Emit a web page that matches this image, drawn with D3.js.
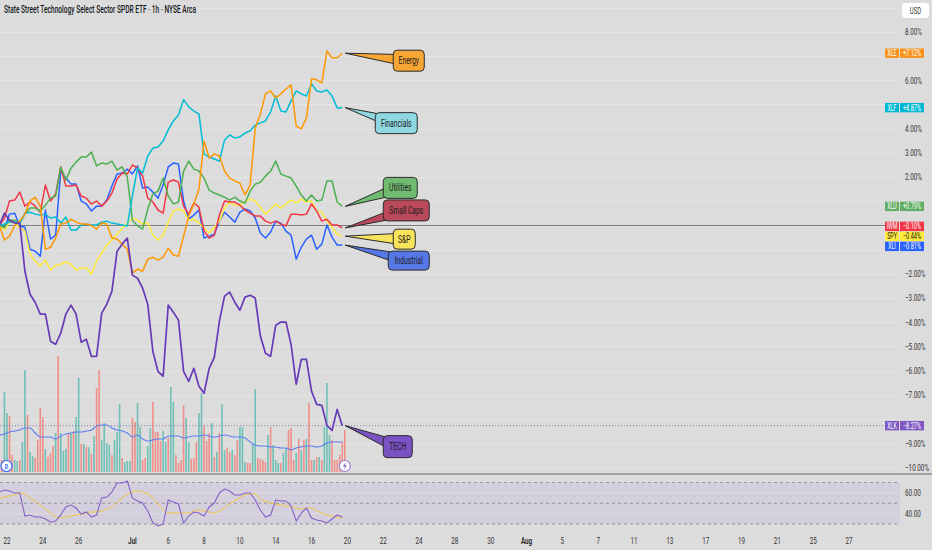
<!DOCTYPE html>
<html>
<head>
<meta charset="utf-8">
<script src="https://cdn.jsdelivr.net/npm/d3@7"></script>
<style>
  body { margin: 0; background: #dcdcdc; }
  svg { display: block; font-family: Roboto, "Liberation Sans", sans-serif; }
</style>
</head>
<body>
<svg id="chart" width="932" height="550"></svg>
<script>
// ---- data: % change vs. first bar, one value every 2 hourly bars ----
var tickers = ["XLE", "XLF", "XLU", "IWM", "SPY", "XLI", "XLK"];
var sectorNames = ["Energy", "Financials", "Utilities", "Small Caps", "S&P", "Industrial", "TECH"];

var xle = [0, -0.6, -0.44, 0.0, 0.18, 0.47, 1.01, 1.17, 0.80, -0.98, -0.90, -0.52, 0.06, 0.10, 0.26, 0.14, 0.06, 0.06, 0.0, -0.15,
  0.10, 0.06, -0.52, -0.56, -0.77, -0.98, -1.97, -1.80, -1.89, -1.39, -1.31, -1.43, -1.31, -0.94, -1.22, -1.27, -0.44, 0.39, 0.89, 1.51,
  3.49, 2.79, 2.96, 2.87, 2.25, 1.96, 1.84, 1.75, 1.26, 1.67, 4.03, 4.61, 5.44, 5.56, 5.27, 5.44, 5.64, 5.81, 4.11, 3.99,
  4.44, 6.06, 6.02, 5.89, 7.21, 6.93, 6.93, 7.12];
var xlf = [0, 0.06, 0.14, 0.14, 0.10, 0.51, 0.55, 0.47, 0.43, 0.47, 0.31, 0.35, 0.10, 0.35, -0.19, -0.19, 0.02, 0.06, 0.02, 0.02,
  0.14, 0.18, 0.10, 0.06, 0.02, -0.02, 1.22, 2.37, 2.17, 2.87, 3.20, 3.24, 3.49, 3.95, 4.32, 4.57, 5.20, 4.90, 4.73, 4.61,
  2.96, 2.83, 2.75, 2.66, 3.53, 3.74, 3.62, 3.66, 3.82, 3.91, 4.15, 4.24, 4.32, 4.69, 5.35, 4.73, 4.69, 5.15, 5.56, 5.44,
  5.35, 5.85, 5.56, 5.52, 5.60, 5.35, 4.86, 4.87];
var xlu = [0, -0.07, 0.22, 0.22, 0.10, 0.47, 0.72, 0.72, 0.60, 0.84, 1.13, 1.22, 2.42, 1.88, 2.37, 2.62, 2.83, 2.83, 3.04, 2.46,
  2.58, 2.54, 2.66, 2.29, 2.42, 2.00, 0.22, -0.02, -0.15, 0.68, 1.30, 1.42, 1.96, 1.22, 0.89, 0.97, 2.25, 2.66, 2.33, 2.25,
  1.96, 1.46, 1.34, 1.26, 1.17, 1.05, 1.17, 1.01, 0.93, 1.42, 1.71, 1.79, 2.04, 2.25, 2.66, 2.13, 2.04, 1.96, 1.63, 1.26,
  1.01, 1.26, 1.01, 1.05, 1.84, 1.84, 0.97, 0.79];
var iwm = [0, 0.31, 1.01, 1.05, 1.38, 0.80, 0.97, 0.80, 0.55, 1.67, 1.01, 1.30, 2.42, 1.63, 1.63, 1.67, 1.22, 1.13, 0.89, 1.01,
  0.80, 1.01, 1.34, 1.92, 2.17, 2.13, 2.50, 2.37, 2.04, 1.13, 0.97, 0.64, 0.51, 1.79, 1.88, 1.79, 0.80, 0.47, 0.93, 0.76,
  -0.23, -0.52, -0.40, 0.43, 1.01, 0.97, 0.97, 0.84, 0.64, 0.51, 0.39, 0.39, 0.18, 0.10, 0.18, 0.06, -0.02, 0.47, 0.47, 0.43,
  0.47, 0.89, 0.60, 0.18, 0.26, 0.02, 0.02, -0.10];
var spy = [0, -0.19, 0.14, 0.10, -0.11, -0.23, -1.18, -1.47, -1.68, -1.43, -1.85, -1.64, -1.60, -1.51, -1.60, -1.85, -1.76, -1.76, -2.01, -1.47,
  -1.14, -0.81, -0.60, -0.36, -0.11, 0.10, 0.31, 0.22, 0.06, 0.10, -0.40, -0.60, -0.40, 0.14, 0.60, 0.68, 0.60, 0.22, 0.26, 0.10,
  -0.11, -0.31, -0.07, 0.18, 0.72, 0.97, 0.84, 0.84, 0.97, 1.09, 1.01, 0.76, 0.47, 0.68, 0.89, 0.72, 0.89, 1.05, 0.93, 1.09,
  0.97, 1.01, 0.60, 0.55, 0.18, -0.07, -0.36, -0.44];
var xli = [0, -0.11, 0.47, 0.51, -0.02, -0.07, -0.98, -1.06, -1.27, 0.64, -0.56, -0.40, 2.25, 1.96, 1.71, 1.71, 1.01, 0.89, 0.60, 0.80,
  0.80, 1.05, 1.63, 2.13, 2.17, 2.33, 2.13, 2.46, 1.55, 1.59, 1.38, 1.13, 1.67, 2.42, 2.58, 2.54, 1.01, 0.26, 0.43, 0.64,
  -0.52, -0.44, -0.36, 0.18, 0.55, 0.35, 0.14, 0.55, 0.68, 0.60, 0.31, -0.31, -0.52, -0.27, 0.18, 0.10, -0.23, -0.40, -1.39, -0.89,
  -0.56, -0.40, -0.98, -0.77, 0.02, -0.48, -0.81, -0.81];
var xlk = [0, 0.51, 0.22, 0.10, 0.10, -1.89, -2.84, -3.17, -3.66, -3.66, -4.78, -4.91, -4.45, -3.66, -3.29, -3.66, -4.82, -4.70, -5.41, -5.41,
  -3.62, -3.25, -2.71, -1.06, -0.77, -0.52, -2.05, -2.18, -2.59, -3.25, -5.20, -6.03, -6.23, -3.29, -3.58, -3.91, -6.03, -6.44, -5.90, -6.64,
  -6.93, -5.90, -5.45, -3.95, -2.92, -2.75, -3.17, -3.50, -2.96, -2.88, -3.00, -4.57, -5.28, -5.41, -4.12, -3.99, -3.99, -4.91, -6.56, -5.53,
  -5.53, -6.85, -7.39, -7.43, -8.26, -8.47, -7.60, -8.27];

// XLK hourly volume (x10k shares), one per bar, and whether the bar closed up
var volume = [12, 12, 80, 59, 56, 17, 12, 11, 12, 30, 102, 57, 20, 16, 14, 32, 64, 55, 23, 15,
  19, 26, 39, 116, 39, 21, 23, 39, 39, 41, 55, 94, 28, 28, 25, 25, 18, 36, 84, 102,
  32, 49, 29, 27, 17, 32, 40, 68, 14, 10, 11, 11, 54, 50, 69, 45, 12, 14, 26, 44,
  70, 40, 40, 31, 41, 30, 34, 85, 70, 17, 9, 12, 67, 54, 30, 13, 14, 30, 59, 79,
  47, 31, 39, 49, 15, 20, 39, 68, 22, 24, 20, 22, 17, 32, 45, 45, 10, 9, 9, 28,
  83, 14, 13, 12, 10, 37, 45, 27, 12, 9, 9, 19, 24, 42, 44, 12, 19, 33, 22, 32,
  33, 69, 12, 12, 15, 15, 12, 45, 89, 37, 32, 12, 12, 17, 30, 42];
var volumeUp = [0, 0, 1, 1, 0, 0, 1, 1, 0, 1, 1, 0, 1, 1, 0, 0, 0, 0, 1, 0,
  0, 0, 1, 0, 1, 1, 1, 0, 1, 0, 1, 1, 0, 1, 0, 1, 0, 1, 0, 0,
  1, 1, 1, 1, 0, 1, 1, 1, 0, 1, 1, 1, 0, 0, 1, 1, 0, 0, 1, 1,
  0, 0, 0, 0, 1, 1, 0, 1, 1, 0, 0, 0, 0, 1, 1, 0, 0, 0, 1, 1,
  0, 0, 0, 1, 0, 1, 0, 1, 1, 0, 0, 1, 0, 0, 1, 1, 1, 0, 0, 1,
  1, 0, 0, 0, 0, 1, 0, 1, 1, 1, 0, 1, 1, 0, 0, 0, 1, 0, 1, 0,
  1, 0, 0, 1, 0, 1, 0, 1, 1, 1, 0, 0, 0, 0, 0, 0];
// volume moving average, same sampling as the price series
var volumeMA = [37, 38, 40, 41, 42, 44, 44, 39, 35, 35, 35, 33, 36, 38, 39, 40, 40, 41, 42, 46,
  47, 47, 44, 42, 41, 39, 35, 37, 33, 31, 32, 33, 33, 36, 36, 36, 34, 35, 36, 36,
  37, 36, 35, 36, 37, 36, 35, 35, 34, 30, 27, 26, 26, 25, 25, 24, 24, 22, 24, 25,
  26, 26, 25, 26, 29, 30, 30, 30];

var rsi = [60.8, 62.8, 61.8, 59.9, 59.9, 37.7, 38.7, 36.7, 36.7, 34.8, 31.9, 32.9, 38.7, 46.4, 48.3, 45.4, 39.6, 41.6, 36.7, 38.7,
  55.1, 56.0, 60.8, 69.5, 69.5, 71.4, 55.1, 52.2, 50.2, 42.5, 31.0, 28.1, 30.0, 53.1, 51.2, 49.3, 31.0, 37.7, 41.6, 40.6,
  37.7, 46.4, 50.2, 59.9, 63.7, 61.8, 58.0, 58.0, 59.9, 59.9, 53.1, 43.5, 36.7, 38.7, 53.1, 52.2, 52.2, 47.3, 32.9, 40.6,
  45.4, 35.8, 33.9, 32.9, 31.0, 34.8, 38.7, 36.7];
var rsiMA = [55.1, 56.0, 57.0, 58.0, 59.9, 58.9, 55.1, 52.2, 48.3, 44.5, 40.6, 36.7, 35.8, 36.7, 37.7, 38.7, 39.6, 40.6, 41.6, 41.6,
  42.5, 44.5, 46.4, 51.2, 55.1, 58.9, 60.8, 61.8, 60.8, 58.9, 55.1, 49.3, 43.5, 40.6, 40.6, 40.6, 40.6, 40.6, 42.5, 43.5,
  42.5, 41.6, 40.6, 42.5, 45.4, 49.3, 52.2, 55.1, 58.0, 58.9, 58.9, 54.1, 52.2, 50.2, 49.3, 48.3, 47.3, 46.4, 45.4, 44.5,
  45.4, 45.4, 42.5, 40.6, 38.7, 37.7, 36.7, 35.8];

// time axis: label text and trading-day index (0 = 22 Jun)
var dayTickLabels = ["22", "24", "26", "Jul", "6", "8", "10", "14", "16", "20", "22", "24", "28", "30", "Aug", "5", "7", "11", "13", "17", "19", "21", "25", "27"];
var dayTickIndex = [0, 2, 4, 7, 9, 11, 13, 15, 17, 19, 21, 23, 25, 27, 29, 31, 33, 35, 37, 39, 41, 43, 45, 47];
var pctTicks = [8, 7, 6, 5, 4, 3, 2, 1, 0, -1, -2, -3, -4, -5, -6, -7, -8, -9, -10];
var pctGrid = [9, 8, 7, 6, 5, 4, 3, 2, 1, 0, -1, -2, -3, -4, -5, -6, -7, -8, -9, -10];
var rsiTicks = [60, 40];
var rsiLevels = [70, 50, 30];

// ---- styles ----
var gLine = {XLE:"#ff9800", XLF:"#00bcd4", XLU:"#4caf50", IWM:"#f23645", SPY:"#ffeb3b", XLI:"#2962ff", XLK:"#673ab7"};
var gBadge = {XLE:"#f7931e", XLF:"#00b8d4", XLU:"#5fae63", IWM:"#f23645", SPY:"#ffeb3b", XLI:"#2962ff", XLK:"#7e57c2"};
var gCallout = {
    XLE:{fill:"#f7a534", dx:48, dy:-3,  w:31, h:21},
    XLF:{fill:"#8fd7e1", dx:30, dy:5,   w:42, h:21},
    XLU:{fill:"#70bb70", dx:38, dy:-29, w:34, h:21},
    IWM:{fill:"#b9495b", dx:38, dy:-28, w:46, h:21},
    SPY:{fill:"#f8e35c", dx:48, dy:-7,  w:22, h:20},
    XLI:{fill:"#5677e6", dx:43, dy:6,   w:41, h:19},
    XLK:{fill:"#7b52c4", dx:38, dy:10,  w:29, h:22}
};
var SX = 0.7;           // narrow text, like the reference
var plotRight = 900;

var svg = d3.select("#chart");
var series = [xle, xlf, xlu, iwm, spy, xli, xlk];

// trading day -> px ; 7 hourly bars per day, bar 3 is the 22 Jun open
var x = d3.scaleLinear().domain([0, 47]).range([7, 849]);
function barDay(b) { return (b - 3) / 7; }
function sampleDay(i) { return barDay(2 * i); }

var y = d3.scaleLinear().domain([8, -10]).range([31.9, 467.5]);
var yVol = d3.scaleLinear().domain([0, 116]).range([472, 356]);
var yRsi = d3.scaleLinear().domain([70, 30]).range([482.5, 524]);

function label(g, px, py, s, size, fill, anchor, weight, sx) {
    return g.append("text")
        .attr("transform", "translate(" + px + "," + py + ") scale(" + (sx || SX) + ",1)")
        .attr("font-size", size)
        .attr("fill", fill)
        .attr("text-anchor", anchor || "start")
        .attr("font-weight", weight || 400)
        .text(s);
}

svg.append("rect").attr("width", 932).attr("height", 550).attr("fill", "#dcdcdc");

// ---- main pane ----
var main = svg.append("g");

main.selectAll("line.grid").data(pctGrid).enter().append("line")
    .attr("x1", 0).attr("x2", plotRight)
    .attr("y1", function(d) { return Math.round(y(d)) + 0.5; })
    .attr("y2", function(d) { return Math.round(y(d)) + 0.5; })
    .attr("stroke", "#e5e5e5");

// volume overlay
main.selectAll("rect.vol").data(volume).enter().append("rect")
    .attr("x", function(d, i) { return x(barDay(i)) - 0.8; })
    .attr("width", 1.6)
    .attr("y", function(d) { return yVol(d); })
    .attr("height", function(d) { return yVol(0) - yVol(d); })
    .attr("fill", function(d, i) { return volumeUp[i] ? "#6fc0b6" : "#f08e89"; });

var volLine = d3.line()
    .x(function(d, i) { return x(sampleDay(i)); })
    .y(function(d) { return yVol(d); })
    .curve(d3.curveMonotoneX);
main.append("path").datum(volumeMA)
    .attr("d", volLine).attr("fill", "none")
    .attr("stroke", "#5b7ef2").attr("stroke-width", 1.1);

// zero line and last XLK price line
main.append("line")
    .attr("x1", 0).attr("x2", 886)
    .attr("y1", y(0)).attr("y2", y(0))
    .attr("stroke", "#7b7b7b").attr("stroke-width", 1);
main.append("line")
    .attr("x1", 0).attr("x2", 886)
    .attr("y1", y(xlk[xlk.length - 1])).attr("y2", y(xlk[xlk.length - 1]))
    .attr("stroke", "#8a80aa").attr("stroke-width", 1).attr("stroke-dasharray", "1,2");

var line = d3.line()
    .x(function(d, i) { return x(sampleDay(i)); })
    .y(function(d) { return y(d); });

[5, 4, 3, 2, 1, 0, 6].forEach(function(k) {
    main.append("path").datum(series[k])
        .attr("d", line)
        .attr("fill", "none")
        .attr("stroke", gLine[tickers[k]])
        .attr("stroke-width", k == 6 ? 1.7 : 1.5)
        .attr("stroke-linejoin", "round");
});

// chart event icons
var iconY = 466;
main.append("circle").attr("cx", x(barDay(3)) - 0.5).attr("cy", iconY).attr("r", 5.5)
    .attr("fill", "white").attr("stroke", "#2962ff").attr("stroke-width", 1.2);
label(main, x(barDay(3)) - 0.5, iconY + 2.6, "D", 7.5, "#2962ff", "middle", 700);
var lx = x(barDay(135));
main.append("circle").attr("cx", lx).attr("cy", iconY).attr("r", 5.5)
    .attr("fill", "white").attr("stroke", "#9c7fd8").attr("stroke-width", 1.2);
main.append("path")
    .attr("d", "M" + (lx + 1) + "," + (iconY - 4) + " L" + (lx - 2) + "," + (iconY + 0.5) + " L" + (lx + 0.2) + "," + (iconY + 0.5) +
        " L" + (lx - 1) + "," + (iconY + 4) + " L" + (lx + 2) + "," + (iconY - 0.8) + " L" + (lx - 0.2) + "," + (iconY - 0.8) + "Z")
    .attr("fill", "#7e57c2");

// callouts pointing at each series' last value
var callouts = main.append("g");
tickers.forEach(function(t, k) {
    var c = gCallout[t];
    var tipX = x(sampleDay(series[k].length - 1)) + 3;
    var tipY = y(series[k][series[k].length - 1]);
    var bx = tipX + c.dx, by = tipY + c.dy;
    var cx = bx + c.w / 2, cy = by + c.h / 2;
    var vx = cx - tipX, vy = cy - tipY, len = Math.sqrt(vx * vx + vy * vy);
    var nx = -vy / len * 6, ny = vx / len * 6;
    callouts.append("path")
        .attr("d", "M" + tipX + "," + tipY + " L" + (cx + nx) + "," + (cy + ny) + " L" + (cx - nx) + "," + (cy - ny) + "Z")
        .attr("fill", c.fill).attr("stroke", "#2b2b2b").attr("stroke-width", 1).attr("stroke-linejoin", "round");
    callouts.append("rect")
        .attr("x", bx).attr("y", by).attr("width", c.w).attr("height", c.h)
        .attr("rx", 4).attr("ry", 4)
        .attr("fill", c.fill).attr("stroke", "#2b2b2b").attr("stroke-width", 1);
    label(callouts, cx, cy + 3.4, sectorNames[k], 10, "#1e1e1e", "middle", 400, 0.68);
});

// ---- price scale ----
var axis = svg.append("g");

// last-value badges, overlapping ones are stacked around their mean
var BH = 10;
var badges = tickers.map(function(t, k) {
    var v = series[k][series[k].length - 1];
    return {t: t, v: v, y: y(v)};
}).sort(function(a, b) { return a.y - b.y; });
var clusters = badges.map(function(b) { return {items: [b], mid: b.y}; });
var merged = true;
while (merged) {
    merged = false;
    for (var i = 1; i < clusters.length; i++) {
        var a = clusters[i - 1], b = clusters[i];
        if (b.mid - b.items.length * BH / 2 < a.mid + a.items.length * BH / 2) {
            var items = a.items.concat(b.items);
            clusters.splice(i - 1, 2, {items: items, mid: d3.mean(items, function(d) { return d.y; })});
            merged = true;
            break;
        }
    }
}
clusters.forEach(function(c) {
    c.items.forEach(function(d, j) { d.by = c.mid + (j - (c.items.length - 1) / 2) * BH; });
});

// tick labels that sit under a badge are hidden, as on the reference
pctTicks.forEach(function(v) {
    var ty = y(v);
    var covered = badges.some(function(d) { return Math.abs(d.by - ty) < 7.5; });
    if (!covered) label(axis, 905, ty + 3.2, d3.format(".2f")(v) + "%", 9, "#333", "start");
});

badges.forEach(function(d) {
    var txt = d.t == "SPY" ? "#222" : "white";
    axis.append("rect").attr("x", 885).attr("y", d.by - 4.7).attr("width", 14).attr("height", 9.4).attr("fill", gBadge[d.t]);
    axis.append("rect").attr("x", 900).attr("y", d.by - 4.7).attr("width", 24).attr("height", 9.4).attr("fill", gBadge[d.t]);
    label(axis, 892, d.by + 3, d.t, 8.5, txt, "middle", 400, 0.62);
    label(axis, 912, d.by + 3, d3.format("+.2f")(d.v) + "%", 8.5, txt, "middle", 400, 0.66);
});

axis.append("rect").attr("x", 902).attr("y", 3).attr("width", 27).attr("height", 15).attr("rx", 3)
    .attr("fill", "white");
label(axis, 915.5, 13.5, "USD", 8.5, "#333", "middle");

label(svg, 4, 13, "State Street Technology Select Sector SPDR ETF \u00b7 1h \u00b7 NYSE Arca", 10, "#131722", "start", 500, 0.66);

// ---- pane separator ----
svg.append("rect").attr("x", 0).attr("y", 473).attr("width", 932).attr("height", 2).attr("fill", "#a2a2a2");

// ---- RSI pane ----
var pane = svg.append("g");
pane.append("rect")
    .attr("x", 0).attr("width", plotRight)
    .attr("y", yRsi(70)).attr("height", yRsi(30) - yRsi(70))
    .attr("fill", "#d3cfdc");
pane.selectAll("line.rg").data(rsiTicks).enter().append("line")
    .attr("x1", 0).attr("x2", plotRight)
    .attr("y1", function(d) { return yRsi(d); }).attr("y2", function(d) { return yRsi(d); })
    .attr("stroke", "#dedbe5");
pane.selectAll("line.rl").data(rsiLevels).enter().append("line")
    .attr("x1", 0).attr("x2", plotRight)
    .attr("y1", function(d) { return yRsi(d); }).attr("y2", function(d) { return yRsi(d); })
    .attr("stroke", "#959595").attr("stroke-dasharray", "3,3");

var rsiLine = d3.line()
    .x(function(d, i) { return x(sampleDay(i)); })
    .y(function(d) { return yRsi(d); });
pane.append("path").datum(rsiMA).attr("d", rsiLine.curve(d3.curveMonotoneX))
    .attr("fill", "none").attr("stroke", "#f2c744").attr("stroke-width", 1);
pane.append("path").datum(rsi).attr("d", rsiLine.curve(d3.curveLinear))
    .attr("fill", "none").attr("stroke", "#8560c8").attr("stroke-width", 1.1);
rsiTicks.forEach(function(v) {
    label(pane, 905, yRsi(v) + 3.2, d3.format(".2f")(v), 9, "#333", "start");
});

// ---- time axis ----
dayTickLabels.forEach(function(s, i) {
    var month = isNaN(+s);
    label(svg, x(dayTickIndex[i]), 544, s, 9, month ? "#222" : "#333", "middle", month ? 600 : 400);
});
</script>
</body>
</html>
